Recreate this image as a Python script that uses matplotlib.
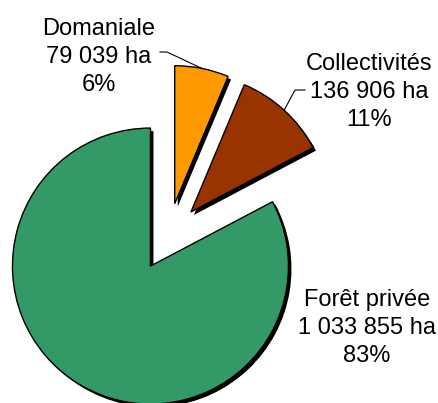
import numpy as np
import matplotlib
matplotlib.use("Agg")
import matplotlib.pyplot as plt

categories = ["Domaniale", "Collectivités", "Forêt privée"]
surfaces = [79039, 136906, 1033855]  # ha
colors = ["#FF9900", "#993300", "#339966"]

total = sum(surfaces)

plt.rcParams['font.family'] = ['Liberation Sans', 'DejaVu Sans']

W, H = 438, 403
fig = plt.figure(figsize=(W / 100, H / 100), dpi=100)
ax = fig.add_axes([0, 0, 1, 1])

# pixel -> data helper (pie centre at pixel (168, 237), radius 138 px)
cx, cy, s = 168, 237, 138.0
def px(x, y):
    return (x - cx) / s, (cy - y) / s

expl = [0.246] * 3
# black shadow, offset down-right
ax.pie(surfaces, explode=expl, startangle=90, counterclock=False,
       colors=["black"] * 3, center=(3 / s, -3 / s), radius=1,
       wedgeprops=dict(linewidth=0), frame=True)
wedges, _ = ax.pie(surfaces, explode=expl, startangle=90, counterclock=False,
                   colors=colors, radius=1, frame=True,
                   wedgeprops=dict(edgecolor="black", linewidth=1))
ax.set_xlim(px(0, 0)[0], px(W, 0)[0])
ax.set_ylim(px(0, H)[1], px(0, 0)[1])
ax.set_aspect("auto")
ax.axis("off")

def fmt(v):
    return f"{v:,}".replace(",", " ")

labels = [f"{c}\n{fmt(v)} ha\n{round(100 * v / total)}%" for c, v in zip(categories, surfaces)]
label_pos = [(99, 57), (369, 92), (367, 328)]
for lab, (x, y) in zip(labels, label_pos):
    ax.text(*px(x, y), lab, ha="center", va="center", fontsize=17,
            linespacing=1.35, color="black")

# leader lines to the middle of the arc
leaders = {0: [(160, 52), (167, 52)], 1: [(305, 90), (295, 90)]}
for i, pts in leaders.items():
    w = wedges[i]
    tm = np.deg2rad((w.theta1 + w.theta2) / 2)
    ex = w.center[0] + w.r * np.cos(tm)
    ey = w.center[1] + w.r * np.sin(tm)
    xs = [px(*p)[0] for p in pts] + [ex]
    ys = [px(*p)[1] for p in pts] + [ey]
    ax.plot(xs, ys, color="black", linewidth=0.8)

fig.savefig("out.png", dpi=100)
